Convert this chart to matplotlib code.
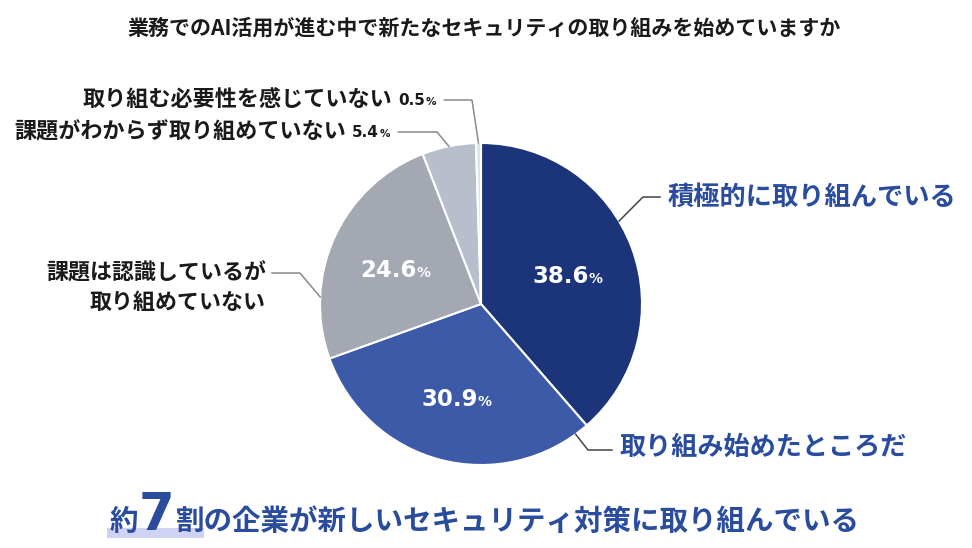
import numpy as np
import matplotlib
matplotlib.use("Agg")
import matplotlib.pyplot as plt
from matplotlib.patches import Rectangle

plt.rcParams['font.family'] = ['Noto Sans CJK JP', 'DejaVu Sans']

# data
labels = ["積極的に取り組んでいる", "取り組み始めたところだ", "課題は認識しているが\n取り組めていない",
          "課題がわからず取り組めていない", "取り組む必要性を感じていない"]
values = [38.6, 30.9, 24.6, 5.4, 0.5]
colors = ["#1c347a", "#3d5aa8", "#a4a8b3", "#b8becc", "#dfe3ea"]
title = "業務でのAI活用が進む中で新たなセキュリティの取り組みを始めていますか"
headline = ["約", "7", "割の企業が新しいセキュリティ対策に取り組んでいる"]

W, H = 972, 548
BLUE = "#2a4c9e"
INK = "#1a1a1a"


def Y(y):
    # layout positions are measured from the top of the image
    return H - y


fig = plt.figure(figsize=(W / 100, H / 100), dpi=100)
ax = fig.add_axes([0, 0, 1, 1])

cx, cy, R = 481, Y(304), 161
wedges, _ = ax.pie(values, colors=colors, startangle=90, counterclock=False,
                   center=(cx, cy), radius=R,
                   wedgeprops=dict(edgecolor="white", linewidth=1.5))
ax.set_xlim(0, W)
ax.set_ylim(0, H)
ax.set_aspect("equal")
ax.axis("off")


def edge(ang, r=R):
    a = np.deg2rad(ang)
    return cx + r * np.cos(a), cy + r * np.sin(a)


renderer = fig.canvas.get_renderer()


def width_of(t):
    return t.get_window_extent(renderer).width


# percentages inside the big slices
for w, v in zip(wedges[:3], values[:3]):
    mid = (w.theta1 + w.theta2) / 2
    x, y = edge(mid, R * 0.58)
    num = ax.text(x - 8, y - 12, f"{v:.1f}", color="white", fontsize=16.5,
                  fontweight="bold", family="DejaVu Sans", ha="center", va="baseline")
    ax.text(x - 8 + width_of(num) / 2, y - 12, "%", color="white", fontsize=10,
            fontweight="bold", family="DejaVu Sans", ha="left", va="baseline")

line_kw = dict(color="#8a8a8a", lw=1.1)

# big blue labels
ax.plot(*zip(edge(31), (643, Y(197)), (660, Y(197))), color="#444444", lw=1.1)
ax.text(668, Y(197), labels[0], color=BLUE, fontsize=18.9, fontweight="bold",
        ha="left", va="center")

ax.plot(*zip(edge(-54), (588, Y(450)), (612, Y(450))), color="#444444", lw=1.1)
ax.text(619, Y(447), labels[1], color=BLUE, fontsize=18.8, fontweight="bold",
        ha="left", va="center")

# grey slice label
ax.plot(*zip(edge(177.5), (300, Y(273)), (272, Y(273))), **line_kw)
ax.text(266, Y(288), labels[2], color=INK, fontsize=15.8, fontweight="bold",
        ha="right", va="center", multialignment="right", linespacing=1.35)

# small slices with value next to the text
small = [(3, Y(132), 352, 437), (4, Y(100), 398, 472)]
for idx, ly, xn, xe in small:
    mid = (wedges[idx].theta1 + wedges[idx].theta2) / 2
    ex, ey = edge(mid)
    num = ax.text(xn, ly - 5, f"{values[idx]:.1f}", color=INK, fontsize=11,
                  fontweight="bold", family="DejaVu Sans", ha="left", va="baseline")
    pct = ax.text(xn + width_of(num) + 1, ly - 5, "%", color=INK, fontsize=7.5,
                  fontweight="bold", family="DejaVu Sans", ha="left", va="baseline")
    x_end = xn + width_of(num) + 1 + width_of(pct)
    ax.plot([x_end + 8, xe, ex], [ly, ly, ey], **line_kw)
    ax.text(xn - 6, ly, labels[idx], color=INK, fontsize=15.9, fontweight="bold",
            ha="right", va="center")

# title
ax.text(484, Y(28), title, color=INK, fontsize=15.1, fontweight="bold",
        ha="center", va="center")

# headline at the bottom
x0, base = 110, Y(530)
sizes = [20.5, 37, 20.5]
xs = []
x = x0
for s, fs in zip(headline, sizes):
    t = ax.text(x, base, s, color=BLUE, fontsize=fs, fontweight="bold",
                ha="left", va="baseline", zorder=3)
    if s.isdigit():
        t.set_family(["DejaVu Sans"])
    xs.append(x)
    x += width_of(t) + (2 if s.isdigit() else 0)
hl_end = xs[2] + 28
ax.add_patch(Rectangle((x0 - 3, Y(538)), hl_end - x0 + 3, 10, color="#cfd2f2",
                       lw=0, zorder=2))

fig.savefig("out.png", dpi=100)
